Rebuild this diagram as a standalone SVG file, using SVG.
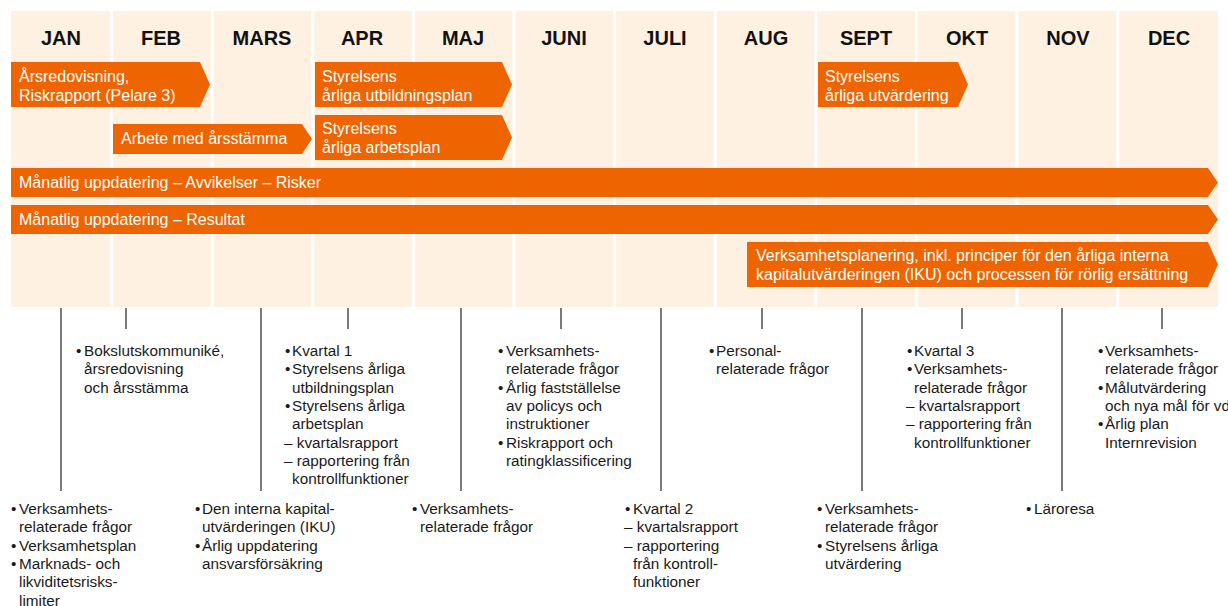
<svg xmlns="http://www.w3.org/2000/svg" width="1228" height="606" viewBox="0 0 1228 606">
<style>
.bg{fill:#FEF1E2}
.sep{stroke:#FFFFFF;stroke-width:3}
.mon{font-family:"Liberation Sans",Arial,sans-serif;font-weight:bold;font-size:20px;fill:#111;text-anchor:middle}
.bar{fill:#EE6400}
.bt{font-family:"Liberation Sans",Arial,sans-serif;font-size:16px;fill:#FFFFFF}
.ln{stroke:#333;stroke-width:1.3}
.tx{font-family:"Liberation Sans",Arial,sans-serif;font-size:15.3px;fill:#1a1a1a}
</style>
<rect width="1228" height="606" fill="#FFFFFF"/>
<g id="background">
<rect class="bg" x="11" y="11" width="1207" height="296"/>
<line class="sep" x1="111.6" y1="11" x2="111.6" y2="307"/>
<line class="sep" x1="212.2" y1="11" x2="212.2" y2="307"/>
<line class="sep" x1="312.8" y1="11" x2="312.8" y2="307"/>
<line class="sep" x1="413.4" y1="11" x2="413.4" y2="307"/>
<line class="sep" x1="514" y1="11" x2="514" y2="307"/>
<line class="sep" x1="614.6" y1="11" x2="614.6" y2="307"/>
<line class="sep" x1="715.2" y1="11" x2="715.2" y2="307"/>
<line class="sep" x1="815.8" y1="11" x2="815.8" y2="307"/>
<line class="sep" x1="916.4" y1="11" x2="916.4" y2="307"/>
<line class="sep" x1="1017" y1="11" x2="1017" y2="307"/>
<line class="sep" x1="1117.6" y1="11" x2="1117.6" y2="307"/>
</g>
<g id="months">
<text class="mon" x="61" y="45">JAN</text>
<text class="mon" x="161" y="45">FEB</text>
<text class="mon" x="262" y="45">MARS</text>
<text class="mon" x="362" y="45">APR</text>
<text class="mon" x="463" y="45">MAJ</text>
<text class="mon" x="564" y="45">JUNI</text>
<text class="mon" x="665" y="45">JULI</text>
<text class="mon" x="766" y="45">AUG</text>
<text class="mon" x="866" y="45">SEPT</text>
<text class="mon" x="967" y="45">OKT</text>
<text class="mon" x="1068" y="45">NOV</text>
<text class="mon" x="1169" y="45">DEC</text>
</g>
<g id="bar-arsredovisning">
<polygon class="bar" points="11,62 200,62 210,84.5 200,107 11,107"/>
<text class="bt" x="19" y="82"><tspan x="19">Årsredovisning,</tspan><tspan x="19" dy="19">Riskrapport (Pelare 3)</tspan></text>
</g>
<g id="bar-utbildningsplan">
<polygon class="bar" points="315,62 502,62 512,84.5 502,107 315,107"/>
<text class="bt" x="322" y="82"><tspan x="322">Styrelsens</tspan><tspan x="322" dy="19">årliga utbildningsplan</tspan></text>
</g>
<g id="bar-utvardering">
<polygon class="bar" points="818,62 958,62 968,84.5 958,107 818,107"/>
<text class="bt" x="825" y="82"><tspan x="825">Styrelsens</tspan><tspan x="825" dy="19">årliga utvärdering</tspan></text>
</g>
<g id="bar-arsstamma">
<polygon class="bar" points="113,124 302,124 312,139 302,154 113,154"/>
<text class="bt" x="121" y="144">Arbete med årsstämma</text>
</g>
<g id="bar-arbetsplan">
<polygon class="bar" points="315,115 502,115 512,137.5 502,160 315,160"/>
<text class="bt" x="322" y="134"><tspan x="322">Styrelsens</tspan><tspan x="322" dy="19">årliga arbetsplan</tspan></text>
</g>
<g id="bar-avvikelser">
<polygon class="bar" points="11,168 1208,168 1218,182.5 1208,197 11,197"/>
<text class="bt" x="19" y="188">Månatlig uppdatering – Avvikelser – Risker</text>
</g>
<g id="bar-resultat">
<polygon class="bar" points="11,205 1208,205 1218,219.5 1208,234 11,234"/>
<text class="bt" x="19" y="225">Månatlig uppdatering – Resultat</text>
</g>
<g id="bar-verksamhetsplanering">
<polygon class="bar" points="747,242 1208,242 1218,264.5 1208,287 747,287"/>
<text class="bt" x="756" y="261"><tspan x="756">Verksamhetsplanering, inkl. principer för den årliga interna</tspan><tspan x="756" dy="19">kapitalutvärderingen (IKU) och processen för rörlig ersättning</tspan></text>
</g>
<g id="connectors">
<line class="ln" x1="61" y1="308" x2="61" y2="491"/>
<line class="ln" x1="126" y1="308" x2="126" y2="329"/>
<line class="ln" x1="261" y1="308" x2="261" y2="491"/>
<line class="ln" x1="348" y1="308" x2="348" y2="329"/>
<line class="ln" x1="461" y1="308" x2="461" y2="491"/>
<line class="ln" x1="561" y1="308" x2="561" y2="329"/>
<line class="ln" x1="661" y1="308" x2="661" y2="491"/>
<line class="ln" x1="762" y1="308" x2="762" y2="329"/>
<line class="ln" x1="862" y1="308" x2="862" y2="491"/>
<line class="ln" x1="962" y1="308" x2="962" y2="329"/>
<line class="ln" x1="1062" y1="308" x2="1062" y2="491"/>
<line class="ln" x1="1162" y1="308" x2="1162" y2="329"/>
</g>
<g id="note-feb">
<text class="tx" y="356"><tspan x="76">•</tspan><tspan x="84">Bokslutskommuniké,</tspan><tspan x="84" dy="18.3">årsredovisning</tspan><tspan x="84" dy="18.3">och årsstämma</tspan></text>
</g>
<g id="note-apr">
<text class="tx" y="356"><tspan x="285">•</tspan><tspan x="292">Kvartal 1</tspan><tspan x="285" dy="18.3">•</tspan><tspan x="292">Styrelsens årliga</tspan><tspan x="292" dy="18.3">utbildningsplan</tspan><tspan x="285" dy="18.3">•</tspan><tspan x="292">Styrelsens årliga</tspan><tspan x="292" dy="18.3">arbetsplan</tspan><tspan x="284" dy="18.3">– kvartalsrapport</tspan><tspan x="284" dy="18.3">– rapportering från</tspan><tspan x="292" dy="18.3">kontrollfunktioner</tspan></text>
</g>
<g id="note-juni">
<text class="tx" y="356"><tspan x="498">•</tspan><tspan x="506">Verksamhets-</tspan><tspan x="506" dy="18.3">relaterade frågor</tspan><tspan x="498" dy="18.3">•</tspan><tspan x="506">Årlig fastställelse</tspan><tspan x="506" dy="18.3">av policys och</tspan><tspan x="506" dy="18.3">instruktioner</tspan><tspan x="498" dy="18.3">•</tspan><tspan x="506">Riskrapport och</tspan><tspan x="506" dy="18.3">ratingklassificering</tspan></text>
</g>
<g id="note-aug">
<text class="tx" y="356"><tspan x="709">•</tspan><tspan x="716">Personal-</tspan><tspan x="716" dy="18.3">relaterade frågor</tspan></text>
</g>
<g id="note-okt">
<text class="tx" y="356"><tspan x="907">•</tspan><tspan x="914">Kvartal 3</tspan><tspan x="907" dy="18.3">•</tspan><tspan x="914">Verksamhets-</tspan><tspan x="914" dy="18.3">relaterade frågor</tspan><tspan x="906" dy="18.3">– kvartalsrapport</tspan><tspan x="906" dy="18.3">– rapportering från</tspan><tspan x="914" dy="18.3">kontrollfunktioner</tspan></text>
</g>
<g id="note-dec">
<text class="tx" y="356"><tspan x="1098">•</tspan><tspan x="1105">Verksamhets-</tspan><tspan x="1105" dy="18.3">relaterade frågor</tspan><tspan x="1098" dy="18.3">•</tspan><tspan x="1105">Målutvärdering</tspan><tspan x="1105" dy="18.3">och nya mål för vd</tspan><tspan x="1098" dy="18.3">•</tspan><tspan x="1105">Årlig plan</tspan><tspan x="1105" dy="18.3">Internrevision</tspan></text>
</g>
<g id="note-jan">
<text class="tx" y="514"><tspan x="11">•</tspan><tspan x="19">Verksamhets-</tspan><tspan x="19" dy="18.3">relaterade frågor</tspan><tspan x="11" dy="18.3">•</tspan><tspan x="19">Verksamhetsplan</tspan><tspan x="11" dy="18.3">•</tspan><tspan x="19">Marknads- och</tspan><tspan x="19" dy="18.3">likviditetsrisks-</tspan><tspan x="19" dy="18.3">limiter</tspan></text>
</g>
<g id="note-mars">
<text class="tx" y="514"><tspan x="195">•</tspan><tspan x="202">Den interna kapital-</tspan><tspan x="202" dy="18.3">utvärderingen (IKU)</tspan><tspan x="195" dy="18.3">•</tspan><tspan x="202">Årlig uppdatering</tspan><tspan x="202" dy="18.3">ansvarsförsäkring</tspan></text>
</g>
<g id="note-maj">
<text class="tx" y="514"><tspan x="412">•</tspan><tspan x="420">Verksamhets-</tspan><tspan x="420" dy="18.3">relaterade frågor</tspan></text>
</g>
<g id="note-juli">
<text class="tx" y="514"><tspan x="625">•</tspan><tspan x="633">Kvartal 2</tspan><tspan x="624" dy="18.3">– kvartalsrapport</tspan><tspan x="624" dy="18.3">– rapportering</tspan><tspan x="633" dy="18.3">från kontroll-</tspan><tspan x="633" dy="18.3">funktioner</tspan></text>
</g>
<g id="note-sept">
<text class="tx" y="514"><tspan x="817">•</tspan><tspan x="825">Verksamhets-</tspan><tspan x="825" dy="18.3">relaterade frågor</tspan><tspan x="817" dy="18.3">•</tspan><tspan x="825">Styrelsens årliga</tspan><tspan x="825" dy="18.3">utvärdering</tspan></text>
</g>
<g id="note-nov">
<text class="tx" y="514"><tspan x="1026">•</tspan><tspan x="1034">Läroresa</tspan></text>
</g>
</svg>
